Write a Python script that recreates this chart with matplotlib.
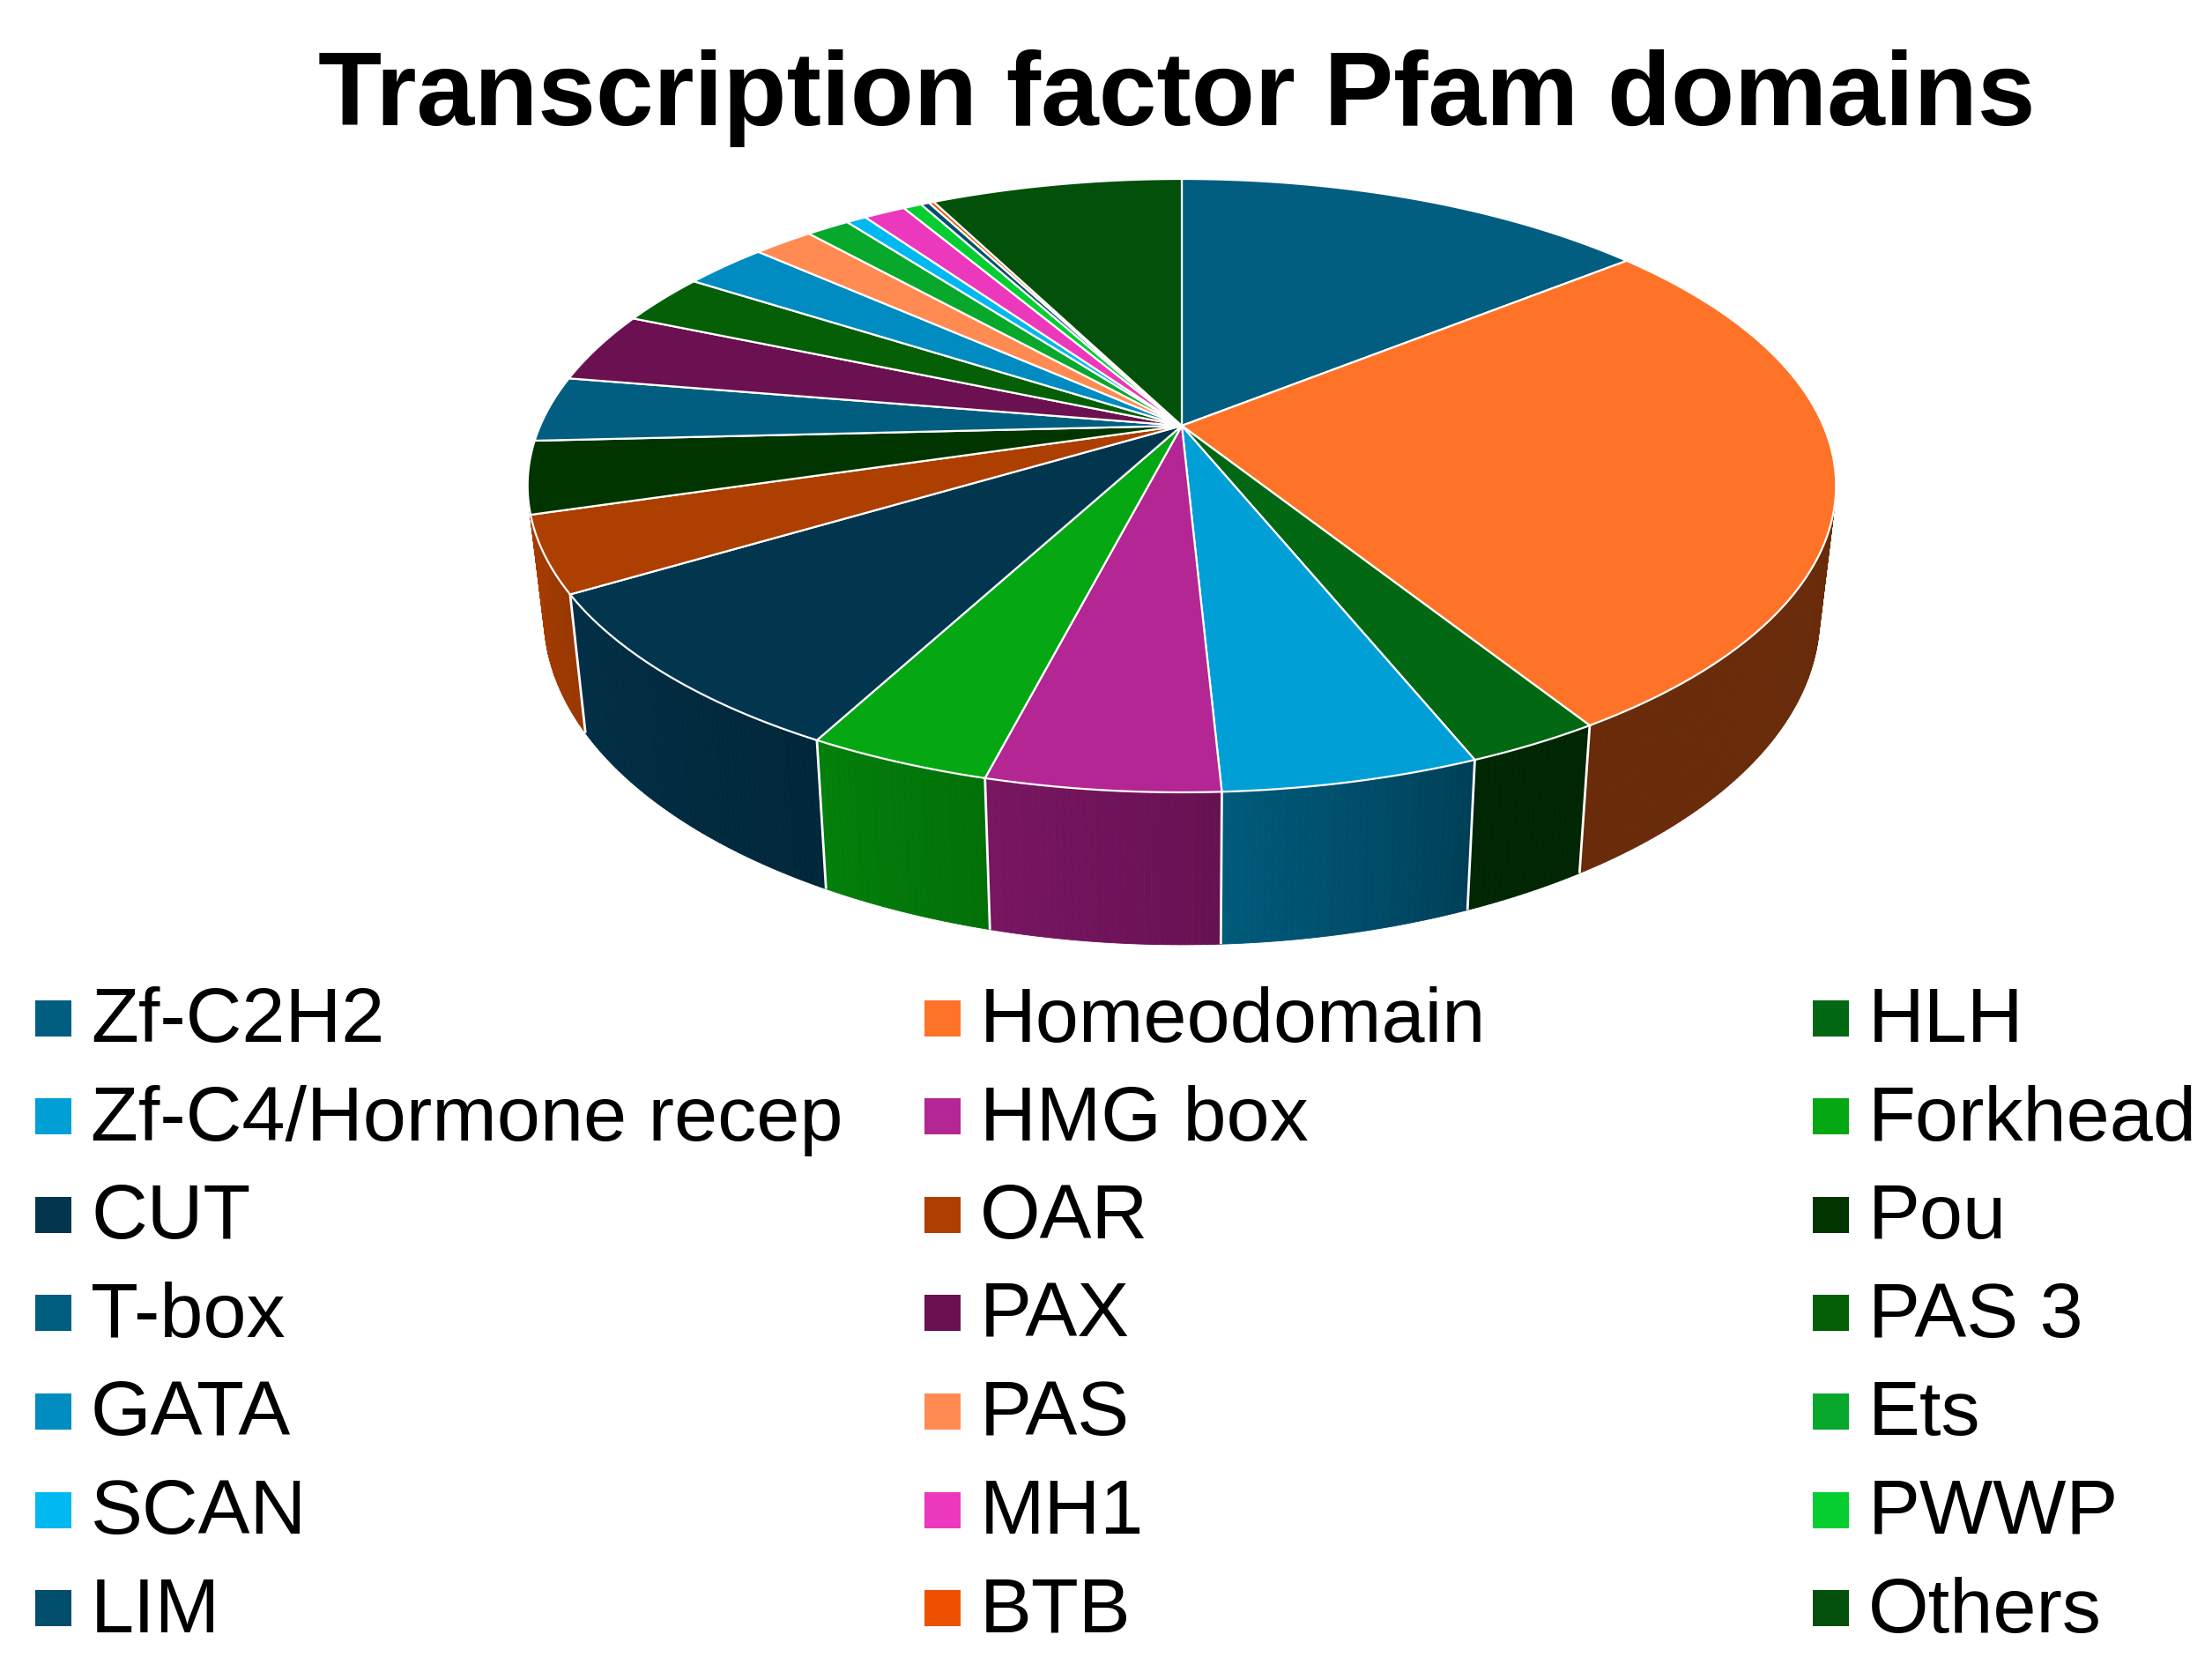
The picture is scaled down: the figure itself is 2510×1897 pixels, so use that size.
import numpy as np
import matplotlib
matplotlib.use('Agg')
import matplotlib.pyplot as plt
from matplotlib.patches import Polygon, Rectangle
from matplotlib.colors import to_rgb

plt.rcParams['font.family'] = ['Liberation Sans', 'DejaVu Sans']

# 按图例顺序（饼图顺时针）
names = ['Zf-C2H2', 'Homeodomain', 'HLH', 'Zf-C4/Hormone recep', 'HMG box', 'Forkhead', 'CUT',
         'OAR', 'Pou', 'T-box', 'PAX', 'PAS 3', 'GATA', 'PAS', 'Ets', 'SCAN', 'MH1', 'PWWP',
         'LIM', 'BTB', 'Others']
shares = [14.2, 26.9, 2.8, 5.3, 4.8, 3.8, 8.6, 4.0, 3.8, 3.45, 3.75, 2.7, 2.5, 1.8, 1.3,
          0.6, 1.25, 0.55, 0.25, 0.15, 7.5]
colors = ['#015E80', '#FF7329', '#036813', '#00A0D7', '#B42693', '#05A812', '#02364F',
          '#AD3F01', '#003500', '#025E80', '#6B1050', '#045F07', '#008CC0', '#FF8B53',
          '#07A82B', '#02B8F0', '#EC38BC', '#06CE30', '#024E6D', '#ED5100', '#02500A']

W, H = 2510, 1897
# 透视参数（像素）
cx, cy = 1341, 483
A, P, Q = 728, -240.3, 0.1954
shrink, stretch, drop = 0.975, 1.07, 110
# 侧面明暗（线性光下的系数）
shade_deg = [158, 177, 194, 208, 239, 254]
shade_val = [0.14, 0.29, 0.41, 0.54, 0.76, 0.88]


def top_xy(deg):
    t = np.radians(deg)
    w = 1 + Q * np.cos(t)
    return cx + A * np.sin(t) / w, (cy + P * np.cos(t)) / w


def bottom_xy(deg):
    x, y = top_xy(deg)
    return cx + shrink * (x - cx), stretch * y + drop


def shade(color, deg):
    rgb = np.array(to_rgb(color))
    lin = np.where(rgb <= 0.04045, rgb / 12.92, ((rgb + 0.055) / 1.055) ** 2.4)
    lin = lin * np.interp(deg, shade_deg, shade_val)
    return np.where(lin <= 0.0031308, lin * 12.92, 1.055 * lin ** (1 / 2.4) - 0.055)


fig = plt.figure(figsize=(W / 100, H / 100), dpi=100)
ax = fig.add_axes([0, 0, 1, 1])
ax.set_xlim(0, W)
ax.set_ylim(H, 0)
ax.axis('off')

edges = np.concatenate([[0], np.cumsum(shares)]) / np.sum(shares) * 360
last_side = names.index('OAR')  # 左侧轮廓由 OAR 的侧面收尾

# 侧面
for i in range(last_side + 1):
    a0 = max(edges[i], 90)
    a1 = 270 if i == last_side else edges[i + 1]
    if a1 <= a0:
        continue
    steps = np.linspace(a0, a1, max(2, int((a1 - a0) * 2) + 1))
    for d0, d1 in zip(steps[:-1], steps[1:]):
        x0, y0 = top_xy(d0)
        x1, y1 = top_xy(d1)
        x2, y2 = bottom_xy(d1)
        x3, y3 = bottom_xy(d0)
        c = shade(colors[i], min((d0 + d1) / 2, edges[i + 1]))
        ax.add_patch(Polygon([[x0, y0], [x1, y1], [x2, y2], [x3, y3]], closed=True,
                             facecolor=c, edgecolor=c, linewidth=0.6, zorder=1))
    # 分界白线
    if i < last_side:
        xa, ya = top_xy(edges[i + 1])
        xb, yb = bottom_xy(edges[i + 1])
        ax.plot([xa, xb], [ya, yb], color='white', lw=2.0, zorder=2, solid_capstyle='butt')

# 顶面
for i in range(len(names)):
    deg = np.linspace(edges[i], edges[i + 1], max(2, int((edges[i + 1] - edges[i]) * 3) + 1))
    xs, ys = top_xy(deg)
    pts = np.column_stack([np.r_[cx, xs], np.r_[cy, ys]])
    ax.add_patch(Polygon(pts, closed=True, facecolor=colors[i], edgecolor='white',
                         linewidth=1.6, joinstyle='miter', zorder=3))

ax.text(1335, 142, 'Transcription factor Pfam domains', fontsize=85, fontweight='bold',
        ha='center', va='baseline', color='black', zorder=5)

# 图例：3 列 7 行
col_x = [40, 1049, 2057]
row0, row_step = 1155, 111.6
for i in range(len(names)):
    col = i % 3
    row = i // 3
    ymid = row0 + row * row_step
    ax.add_patch(Rectangle((col_x[col], ymid - 20.5), 41, 41, facecolor=colors[i],
                           edgecolor='none', zorder=4))
    ax.text(col_x[col] + 63, ymid + 27, names[i], fontsize=63.5, ha='left', va='baseline',
            color='black', zorder=5)

fig.savefig('out.png', dpi=100, facecolor='white')
